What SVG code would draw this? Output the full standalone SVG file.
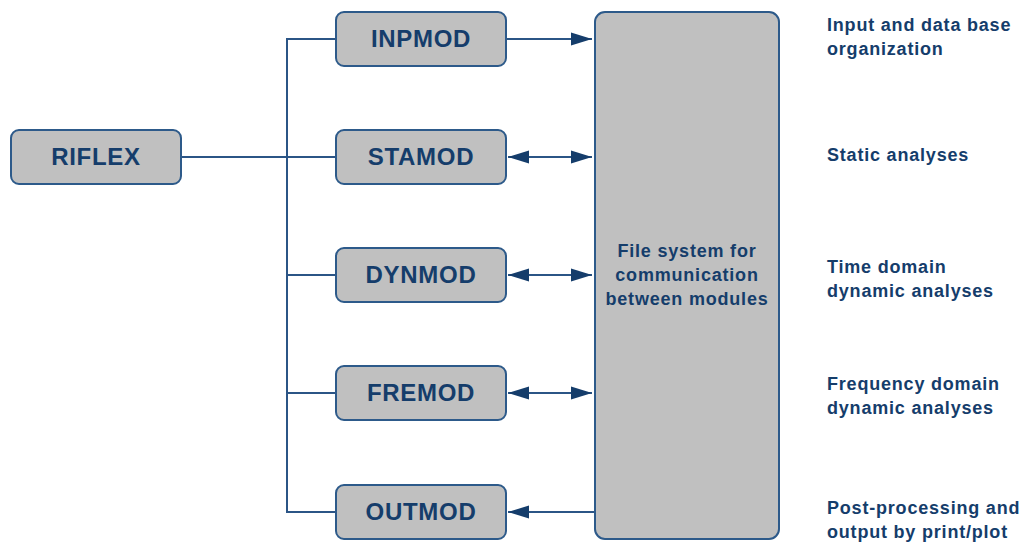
<svg xmlns="http://www.w3.org/2000/svg" width="1026" height="542" viewBox="0 0 1026 542">
<style>
.box{fill:#c0c0c0;stroke:#2d5a8a;stroke-width:2}
.lbl{font-family:"Liberation Sans",Arial,sans-serif;font-weight:bold;fill:#153d6b}
.node{font-size:24px;letter-spacing:0.7px;text-anchor:middle}
.side{font-size:18px;letter-spacing:0.8px}
.mid{font-size:18px;letter-spacing:0.8px;text-anchor:middle}
.ln{stroke:#2b5586;stroke-width:2;fill:none}
</style>
<defs>
<marker id="ah" markerUnits="userSpaceOnUse" markerWidth="22" markerHeight="14" refX="21" refY="7" orient="auto-start-reverse">
<path d="M0,0.5 L21,7 L0,13.5 z" fill="#153d6b"/>
</marker>
</defs>
<rect width="1026" height="542" fill="#ffffff"/>
<g id="connectors">
<line class="ln" x1="287" y1="39" x2="287" y2="512"/>
<line class="ln" x1="181" y1="157" x2="336" y2="157"/>
<line class="ln" x1="286" y1="39" x2="336" y2="39"/>
<line class="ln" x1="286" y1="275" x2="336" y2="275"/>
<line class="ln" x1="286" y1="393" x2="336" y2="393"/>
<line class="ln" x1="286" y1="512" x2="336" y2="512"/>
<line class="ln" x1="506" y1="39" x2="592" y2="39" marker-end="url(#ah)"/>
<line class="ln" x1="508" y1="157" x2="592" y2="157" marker-start="url(#ah)" marker-end="url(#ah)"/>
<line class="ln" x1="508" y1="275" x2="592" y2="275" marker-start="url(#ah)" marker-end="url(#ah)"/>
<line class="ln" x1="508" y1="393" x2="592" y2="393" marker-start="url(#ah)" marker-end="url(#ah)"/>
<line class="ln" x1="595" y1="512" x2="508" y2="512" marker-end="url(#ah)"/>
</g>
<g id="riflex">
<rect class="box" x="11" y="130" width="170" height="54" rx="8"/>
<text class="lbl node" x="96" y="165">RIFLEX</text>
</g>
<g id="inpmod">
<rect class="box" x="336" y="12" width="170" height="54" rx="8"/>
<text class="lbl node" x="421" y="47">INPMOD</text>
</g>
<g id="stamod">
<rect class="box" x="336" y="130" width="170" height="54" rx="8"/>
<text class="lbl node" x="421" y="165">STAMOD</text>
</g>
<g id="dynmod">
<rect class="box" x="336" y="248" width="170" height="54" rx="8"/>
<text class="lbl node" x="421" y="283">DYNMOD</text>
</g>
<g id="fremod">
<rect class="box" x="336" y="366" width="170" height="54" rx="8"/>
<text class="lbl node" x="421" y="401">FREMOD</text>
</g>
<g id="outmod">
<rect class="box" x="336" y="485" width="170" height="54" rx="8"/>
<text class="lbl node" x="421" y="520">OUTMOD</text>
</g>
<g id="filesystem">
<rect class="box" x="595" y="12" width="184" height="527" rx="10"/>
<text class="lbl mid" x="687" y="257">File system for</text>
<text class="lbl mid" x="687" y="281">communication</text>
<text class="lbl mid" x="687" y="305">between modules</text>
</g>
<g id="labels">
<text class="lbl side" x="827" y="31">Input and data base</text>
<text class="lbl side" x="827" y="55">organization</text>
<text class="lbl side" x="827" y="161">Static analyses</text>
<text class="lbl side" x="827" y="273">Time domain</text>
<text class="lbl side" x="827" y="297">dynamic analyses</text>
<text class="lbl side" x="827" y="390">Frequency domain</text>
<text class="lbl side" x="827" y="414">dynamic analyses</text>
<text class="lbl side" x="827" y="514">Post-processing and</text>
<text class="lbl side" x="827" y="538">output by print/plot</text>
</g>
</svg>
